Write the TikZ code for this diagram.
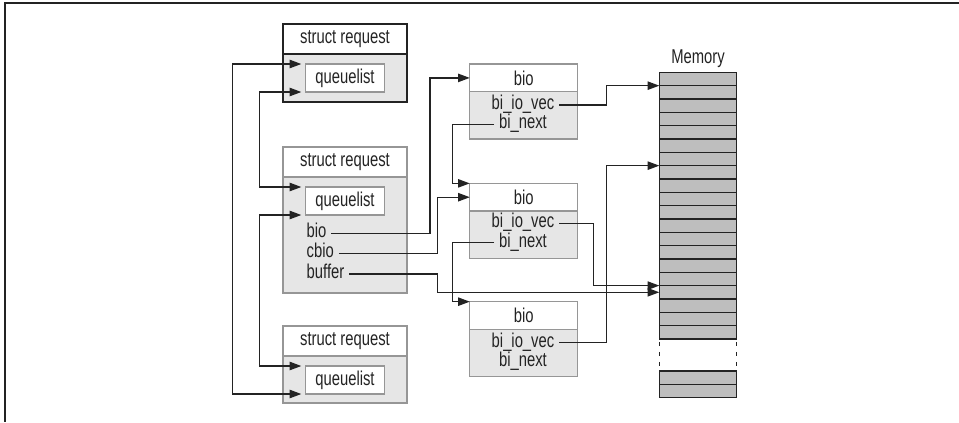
\documentclass[tikz,border=0pt]{standalone}
\usepackage{fontspec}
\setmainfont{Liberation Sans}[FakeStretch=0.74]
\usetikzlibrary{arrows.meta,positioning}
\definecolor{boxline}{RGB}{150,150,150}
\definecolor{boxfill}{RGB}{230,230,230}
\definecolor{memfill}{RGB}{190,190,190}
\definecolor{inkline}{RGB}{35,35,35}
\tikzset{
    every node/.style={font=\fontsize{12}{14}\selectfont, text=inkline, outer sep=0pt},
    reqtitle/.style={draw=boxline, fill=white, line width=0.7pt, minimum width=74.4pt, minimum height=18pt, inner sep=0pt},
    reqbody/.style={draw=boxline, fill=boxfill, line width=0.7pt, minimum width=74.4pt, inner sep=0pt},
    topbox/.style={draw=inkline, line width=1.4pt},
    biotitle/.style={draw=boxline, fill=white, line width=0.7pt, minimum width=64.8pt, minimum height=16.6pt, inner sep=0pt},
    biobody/.style={draw=boxline, fill=boxfill, line width=0.7pt, minimum width=64.8pt, minimum height=28.4pt, inner sep=0pt},
    qlist/.style={draw=boxline, fill=white, line width=0.7pt, minimum width=47.2pt, minimum height=16.8pt, inner sep=0pt},
    fieldname/.style={inner xsep=3pt, inner ysep=0pt, text height=1.2ex, text depth=0.2ex},
    memrow/.style={draw=inkline, fill=memfill, line width=0.75pt, minimum width=46.4pt, minimum height=8pt, inner sep=0pt},
    link/.style={draw=inkline, line width=0.8pt, -{Triangle[length=7pt,width=5pt]}},
    twolink/.style={draw=inkline, line width=0.8pt, {Triangle[length=7pt,width=5pt]}-{Triangle[length=7pt,width=5pt]},
        shorten <=2.6pt, shorten >=2.6pt},
    memgap/.style={draw=inkline, line width=0.8pt, dash pattern=on 2.4pt off 3.6pt, dash phase=-1.8pt},
    frameline/.style={draw=inkline, line width=1.2pt}
}

\begin{document}
\begin{tikzpicture}[x=0.6pt, y=-0.6pt]
    \useasboundingbox (0,0) rectangle (959,422);
    \draw[frameline] (959,3) -- (5,3) -- (5,422);

    \coordinate (V1) at (232.7, 0);
    \coordinate (V2) at (259.3, 0);
    \coordinate (V3) at (430, 0);
    \coordinate (V4) at (437.5, 0);
    \coordinate (V5) at (452.3, 0);
    \coordinate (V6) at (593.3, 0);
    \coordinate (V7) at (606.7, 0);

    % request structures
    \node[reqtitle, topbox] (r1h) at (345, 39) {struct request};
    \node[reqbody, topbox, minimum height=28.8pt, below=0pt of r1h] (r1b) {};
    \node[qlist, below=6pt of r1h] (q1) {queuelist};

    \node[reqtitle] (r2h) at (345, 162) {struct request};
    \node[reqbody, minimum height=69.6pt, below=0pt of r2h] (r2b) {};
    \node[qlist, below=6pt of r2h] (q2) {queuelist};
    \node[fieldname, anchor=west] (bio) at (301.7, 233.3) {bio};
    \node[fieldname, anchor=west] (cbio) at (301.7, 253.3) {cbio};
    \node[fieldname, anchor=west] (buffer) at (301.7, 274) {buffer};

    \node[reqtitle] (r3h) at (345, 341) {struct request};
    \node[reqbody, minimum height=28.2pt, below=0pt of r3h] (r3b) {};
    \node[qlist, below=6pt of r3h] (q3) {queuelist};

    % bio structures
    \node[biotitle] (b1h) at (523.8, 77.9) {bio};
    \node[biobody, below=0pt of b1h] (b1b) {};
    \node[fieldname] (bv1) at (523, 105) {bi\_io\_vec};
    \node[fieldname] (bn1) at (523, 124.3) {bi\_next};

    \node[biotitle] (b2h) at (523.8, 197.2) {bio};
    \node[biobody, below=0pt of b2h] (b2b) {};
    \node[fieldname] (bv2) at (523, 223.3) {bi\_io\_vec};
    \node[fieldname] (bn2) at (523, 242.7) {bi\_next};

    \node[biotitle] (b3h) at (523.8, 315.5) {bio};
    \node[biobody, below=0pt of b3h] (b3b) {};
    \node[fieldname] (bv3) at (523, 342.7) {bi\_io\_vec};
    \node[fieldname] (bn3) at (523, 361.7) {bi\_next};

    % memory
    \node (memlabel) at (698, 58.3) {Memory};
    \foreach \i in {0,...,19}
        \node[memrow] (m\i) at (698, 79+13.33*\i) {};
    \node[memrow] (mb0) at (698, 377.7) {};
    \node[memrow] (mb1) at (698, 391) {};
    \draw[memgap] (m19.south west) -- (m19.south west |- 0,368);
    \draw[memgap] (m19.south east) -- (m19.south east |- 0,368);

    % request queue
    \draw[twolink] (q1.north west) -- (q1.north west -| V1) -- (q3.south west -| V1) -- (q3.south west);
    \draw[twolink] (q1.south west) -- (q1.south west -| V2) -- (q2.north west -| V2) -- (q2.north west);
    \draw[twolink] (q2.south west) -- (q2.south west -| V2) -- (q3.north west -| V2) -- (q3.north west);

    % pointers
    \draw[link] (bio.east) -| (V3 |- b1h.west) -- (b1h.west);
    \draw[link] (cbio.east) -| (V4 |- b2h.west) -- (b2h.west);
    \draw[link] (buffer.east) -| (V4 |- m16.west) -- (m16.west);
    \draw[link] (bn1.west) -| (V5 |- b2h.north west) -- (b2h.north west);
    \draw[link] (bn2.west) -| (V5 |- b3h.north west) -- (b3h.north west);
    \draw[link] (bv1.east) -| (V7 |- m1.north west) -- (m1.north west);
    \draw[link] (bv2.east) -| (V6 |- m16.north west) -- (m16.north west);
    \draw[link] (bv3.east) -| (V7 |- m7.north west) -- (m7.north west);
\end{tikzpicture}
\end{document}
